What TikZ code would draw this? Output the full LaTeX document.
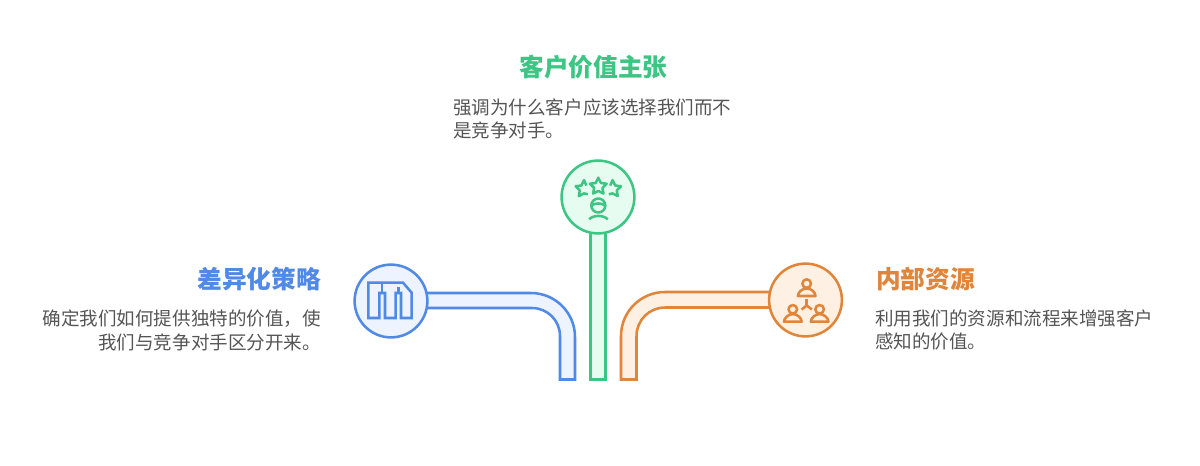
\documentclass[tikz,border=0pt]{standalone}
\usepackage{fontspec}
\setmainfont{Noto Sans CJK SC}
\definecolor{cblue}{HTML}{5089E6}
\definecolor{fblue}{HTML}{EDF3FF}
\definecolor{cgreen}{HTML}{3CC583}
\definecolor{fgreen}{HTML}{E6FCF1}
\definecolor{corange}{HTML}{E0853A}
\definecolor{forange}{HTML}{FEF0E3}
\definecolor{bodyc}{HTML}{555555}
\newcommand\personicon[2]{%
  \draw (#1,#2-12.4) circle (4.3);
  \draw (#1-8.8,#2) .. controls (#1-8.8,#2-3.6) and (#1-4.6,#2-7.6) .. (#1,#2-7.6)
    .. controls (#1+4.6,#2-7.6) and (#1+8.8,#2-3.6) .. (#1+8.8,#2) -- cycle;
}
\tikzset{
  x=0.75pt,y=-0.75pt,
  pipe/.style={line width=1.9pt,line join=miter},
  badge/.style={circle,draw,line width=1.9pt,minimum size=54.6pt,inner sep=0pt},
  icon/.style={line width=1.9pt,line join=round,line cap=butt},
  titletext/.style={font=\fontsize{18.5pt}{22pt}\selectfont\bfseries,inner sep=0pt},
  bodytext/.style={font=\fontsize{13.9pt}{17.25pt}\selectfont,text=bodyc,inner sep=0pt},
}
\begin{document}
\begin{tikzpicture}
\useasboundingbox (0,0) rectangle (1200,465);
\fill[white] (0,0) rectangle (1200,465);

% pipes
\draw[pipe,draw=cblue,fill=fblue] (391,293) -- (531,293) arc[start angle=-90,end angle=0,radius=44] -- (575,379.5) -- (560,379.5) -- (560,336) arc[start angle=0,end angle=-90,radius=28] -- (391,308) -- cycle;
\draw[pipe,draw=cgreen,fill=fgreen] (590.5,197) rectangle (605.5,379.5);
\draw[pipe,draw=corange,fill=forange] (805,292) -- (665,292) arc[start angle=-90,end angle=-180,radius=44] -- (621,379.5) -- (636.5,379.5) -- (636.5,336) arc[start angle=-180,end angle=-90,radius=28.5] -- (805,307.5) -- cycle;

% badges
\node[badge,draw=cblue,fill=fblue] (bluebadge) at (391,301) {};
\node[badge,draw=cgreen,fill=fgreen] (greenbadge) at (598,197) {};
\node[badge,draw=corange,fill=forange] (orangebadge) at (805.5,300) {};

% blue icon
\draw[icon,draw=cblue,line join=miter] (368.3,282.7) -- (403,282.7) -- (411.7,292.7) -- (411.7,318) -- (401,318) -- (401,293) -- (395.7,293) -- (395.7,318) -- (385,318) -- (385,293) -- (379.3,293) -- (379.3,318) -- (368.3,318) -- cycle;
\draw[icon,draw=cblue] (382.2,282.7) -- (382.2,293);
\draw[icon,draw=cblue] (398.3,287) -- (398.3,293);

% green icon
\begin{scope}[icon,draw=cgreen]
  \begin{scope}[shift={(598.3,186.5)}]
    \draw (-90:8.8) \foreach \k in {1,...,9}{ -- ({-90+36*\k}:{8.8*(1-0.5*mod(\k,2))})} -- cycle;
  \end{scope}
  \begin{scope}[shift={(584,189)}]
    \draw (-54:4.2) -- (-90:8.8) -- (-126:4.4) -- (-162:8.8) -- (-198:4.4) -- (-234:8.8) -- (-270:4.4) -- (-306:6.5);
  \end{scope}
  \begin{scope}[shift={(612.6,189)}]
    \draw (-126:4.2) -- (-90:8.8) -- (-54:4.4) -- (-18:8.8) -- (18:4.4) -- (54:8.8) -- (90:4.4) -- (126:6.5);
  \end{scope}
  \draw (598.3,205.5) circle (7);
  \draw (591.6,205.5) .. controls (595,202.8) and (601.5,202.8) .. (605,205.5);
  \draw (589.3,219.3) .. controls (593,214.8) and (603.6,214.8) .. (607.7,219.3);
\end{scope}

% orange icon
\begin{scope}[icon,draw=corange]
  \personicon{806.7}{296}
  \personicon{792.8}{321.7}
  \personicon{819.6}{321.7}
  \draw (806.7,305.5) -- (806.7,298.5);
  \draw (806.7,305.5) -- (801.5,309.5);
  \draw (806.7,305.5) -- (811.9,309.5);
\end{scope}

% text
\node[titletext,text=cgreen,anchor=center] (greentitle) at (593.5,67) {客户价值主张};
\node[bodytext,anchor=west] (greenline1) at (453,107) {强调为什么客户应该选择我们而不};
\node[bodytext,anchor=west] (greenline2) at (453,130) {是竞争对手。};
\node[titletext,text=cblue,anchor=east] (bluetitle) at (321,279) {差异化策略};
\node[bodytext,anchor=east] (blueline1) at (321,319) {确定我们如何提供独特的价值\symbol{"FF0C}使};
\node[bodytext,anchor=east] (blueline2) at (321,342) {我们与竞争对手区分开来。};
\node[titletext,text=corange,anchor=west] (orangetitle) at (876,279) {内部资源};
\node[bodytext,anchor=west] (orangeline1) at (875,318) {利用我们的资源和流程来增强客户};
\node[bodytext,anchor=west] (orangeline2) at (875,341) {感知的价值。};
\end{tikzpicture}
\end{document}
